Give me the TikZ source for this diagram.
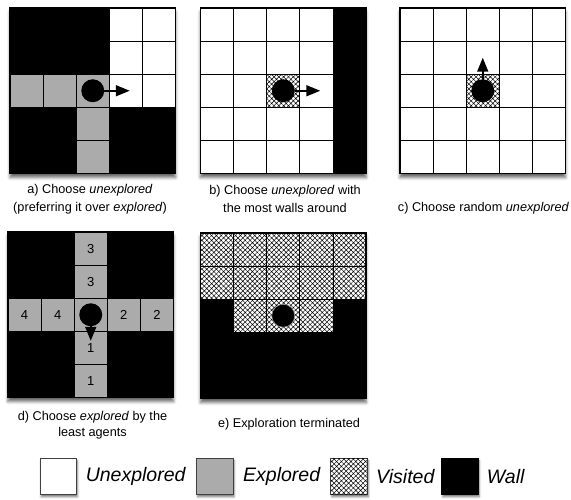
\documentclass[tikz,border=0pt]{standalone}
\usepackage{fontspec}
\setmainfont{Liberation Sans}
\usetikzlibrary{patterns.meta,shadows,shadows.blur,arrows.meta}
\definecolor{explgray}{gray}{0.67}
\def\cs{33.1}
\tikzset{
  x=1pt, y=-1pt,
  hatchfill/.style={postaction={pattern={Hatch[angle=45,distance=3.4pt,line width=0.5pt]}}},
  unex/.style={fill=white, draw=black, line width=0.8pt},
  expl/.style={fill=explgray, draw=black, line width=0.8pt},
  vis/.style={fill=white, draw=black, line width=0.8pt, hatchfill},
  panelbg/.style={blur shadow={shadow xshift=0pt, shadow yshift=-4pt, shadow blur radius=3pt, shadow opacity=60}},
  border/.style={draw=black, line width=1.3pt},
  agent/.style={circle, fill=black, minimum size=23pt, inner sep=0pt},
  move/.style={-{Triangle[length=14pt,width=11pt,fill=black]}, line width=1.6pt, draw=black},
  captxt/.style={font=\fontsize{12.7}{18}\selectfont, align=center, inner sep=0pt},
  numtxt/.style={font=\fontsize{13}{14}\selectfont, inner sep=0pt},
  legbox/.style={minimum size=36.5pt, inner sep=0pt, draw=black!75, line width=1pt,
    blur shadow={shadow xshift=1pt, shadow yshift=-2pt, shadow blur radius=2pt, shadow opacity=50}},
  legtxt/.style={font=\fontsize{19.5}{21}\selectfont\itshape, anchor=west, inner sep=0pt}
}
\begin{document}
\begin{tikzpicture}
\useasboundingbox (0,0) rectangle (571,500);

% ---------- Panel a ----------
\begin{scope}[shift={(10,8)}]
  \path[panelbg, fill=black] (0,0) rectangle (5*\cs,5*\cs);
  \foreach \cc/\rr in {3/0,4/0,3/1,4/1,3/2,4/2}
    \path[unex] (\cc*\cs,\rr*\cs) rectangle ++(\cs,\cs);
  \foreach \cc/\rr in {0/2,1/2,2/2,2/3,2/4}
    \path[expl] (\cc*\cs,\rr*\cs) rectangle ++(\cs,\cs);
  \path[border] (0,0) rectangle (5*\cs,5*\cs);
  \node[agent] (agA) at (2.5*\cs,2.5*\cs) {};
  \coordinate (tipA) at (2.5*\cs+37,2.5*\cs);
  \draw[move] (agA) -- (tipA);
\end{scope}

% ---------- Panel b ----------
\begin{scope}[shift={(200.5,8)}]
  \path[panelbg, fill=black] (0,0) rectangle (5*\cs,5*\cs);
  \foreach \cc in {0,1,2,3}
    \foreach \rr in {0,...,4}
      \path[unex] (\cc*\cs,\rr*\cs) rectangle ++(\cs,\cs);
  \path[vis] (2*\cs,2*\cs) rectangle ++(\cs,\cs);
  \path[border] (0,0) rectangle (5*\cs,5*\cs);
  \node[agent] (agB) at (2.5*\cs,2.5*\cs) {};
  \coordinate (tipB) at (2.5*\cs+37,2.5*\cs);
  \draw[move] (agB) -- (tipB);
\end{scope}

% ---------- Panel c ----------
\begin{scope}[shift={(400,8)}]
  \path[panelbg, fill=white] (0,0) rectangle (5*\cs,5*\cs);
  \foreach \cc in {0,...,4}
    \foreach \rr in {0,...,4}
      \path[unex] (\cc*\cs,\rr*\cs) rectangle ++(\cs,\cs);
  \path[vis] (2*\cs,2*\cs) rectangle ++(\cs,\cs);
  \path[border] (0,0) rectangle (5*\cs,5*\cs);
  \node[agent] (agC) at (2.5*\cs,2.5*\cs) {};
  \coordinate (tipC) at (2.5*\cs,2.5*\cs-33);
  \draw[move] (agC) -- (tipC);
\end{scope}

% ---------- Panel d ----------
\begin{scope}[shift={(8,232)}]
  \path[panelbg, fill=black] (0,0) rectangle (5*\cs,5*\cs);
  \foreach \cc/\rr in {2/0,2/1,0/2,1/2,2/2,3/2,4/2,2/3,2/4}
    \path[expl] (\cc*\cs,\rr*\cs) rectangle ++(\cs,\cs);
  \path[border] (0,0) rectangle (5*\cs,5*\cs);
  \node[numtxt] (d20) at (2.5*\cs,0.5*\cs) {3};
  \node[numtxt] (d21) at (2.5*\cs,1.5*\cs) {3};
  \node[numtxt] (d02) at (0.5*\cs,2.5*\cs) {4};
  \node[numtxt] (d12) at (1.5*\cs,2.5*\cs) {4};
  \node[numtxt] (d32) at (3.5*\cs,2.5*\cs) {2};
  \node[numtxt] (d42) at (4.5*\cs,2.5*\cs) {2};
  \node[numtxt] (d23) at (2.5*\cs,3.5*\cs) {1};
  \node[numtxt] (d24) at (2.5*\cs,4.5*\cs) {1};
  \node[agent] (agD) at (2.5*\cs,2.5*\cs) {};
  \coordinate (tipD) at (2.5*\cs,2.5*\cs+26);
  \draw[move] (agD) -- (tipD);
\end{scope}

% ---------- Panel e ----------
\begin{scope}[shift={(200.5,233)}]
  \path[panelbg, fill=black] (0,0) rectangle (5*\cs,5*\cs);
  \foreach \cc/\rr in {0/0,1/0,2/0,3/0,4/0,0/1,1/1,2/1,3/1,4/1,1/2,2/2,3/2}
    \path[vis] (\cc*\cs,\rr*\cs) rectangle ++(\cs,\cs);
  \path[border] (0,0) rectangle (5*\cs,5*\cs);
  \node[agent, draw=black!40, line width=0.6pt] (agE) at (2.5*\cs,2.5*\cs) {};
\end{scope}

% ---------- Captions ----------
\node[captxt] (capA) at (90,199) {a) Choose \textit{unexplored}\\(preferring it over \textit{explored})};
\node[captxt] (capB) at (285,199) {b) Choose \textit{unexplored} with\\the most walls around};
\node[captxt] (capC) at (483.5,208) {c) Choose random \textit{unexplored}};
\node[captxt, font=\fontsize{12.7}{16}\selectfont] (capD) at (92.5,425) {d) Choose \textit{explored} by the\\least agents};
\node[captxt] (capE) at (289,424) {e) Exploration terminated};

% ---------- Legend ----------
\node[legbox, fill=white] (lbU) at (58.3,476.7) {};
\node[legtxt] (ltU) at (85.6,476.7) {Unexplored};
\node[legbox, fill=explgray] (lbX) at (214.9,476.7) {};
\node[legtxt] (ltX) at (243,476.7) {Explored};
\node[legbox, fill=white, hatchfill] (lbV) at (349.2,476.7) {};
\node[legtxt] (ltV) at (376,476.7) {Visited};
\node[legbox, fill=black, draw=black] (lbW) at (460,476.7) {};
\node[legtxt] (ltW) at (486.7,476.7) {Wall};
\end{tikzpicture}
\end{document}
